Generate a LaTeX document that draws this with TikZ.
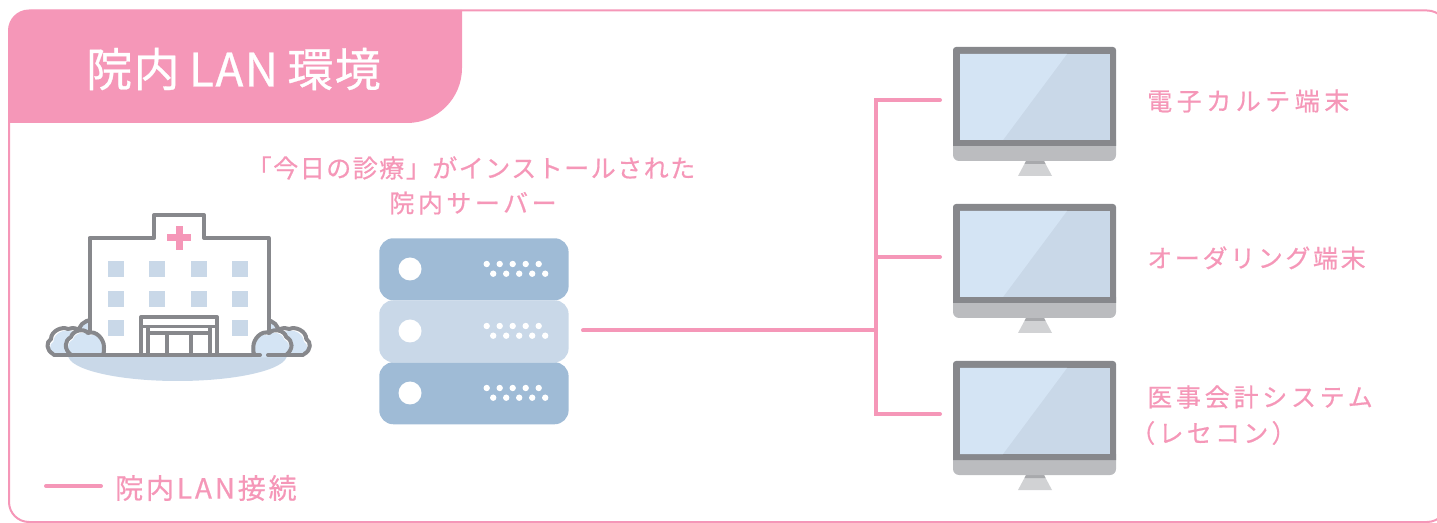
\documentclass[tikz,border=0pt]{standalone}
\usepackage{fontspec}
\setmainfont{Noto Sans CJK JP}
\newfontfamily\jpbase[FakeBold=0.6]{Noto Sans CJK JP}
\definecolor{pinkc}{HTML}{F597B8}
\definecolor{grayc}{HTML}{87888C}
\definecolor{chinc}{HTML}{BBBCBF}
\definecolor{standc}{HTML}{D1D2D4}
\definecolor{lightb}{HTML}{D4E4F4}
\definecolor{paleb}{HTML}{C9D8E8}
\definecolor{midb}{HTML}{9FBBD6}
\newcommand{\lspc}[1]{\addfontfeature{LetterSpace=#1}}
\newcommand{\rearbush}{(53,354) .. controls (46,350) and (46,342) .. (51,339) .. controls (51,331) and (62,326) .. (68,329) .. controls (74,326) and (82,330) .. (86,338)}
\newcommand{\frontbush}{(71,355) .. controls (64,349) and (64,341) .. (71,337) .. controls (73,330) and (84,328) .. (88,333) .. controls (96,330) and (104,339) .. (104,347) .. controls (104,351) and (104,353) .. (103,355)}
\tikzset{
  x=0.75pt,y=-0.75pt,
  wire/.style={draw=pinkc,line width=3pt,line cap=round,line join=miter},
  lbl/.style={text=pinkc,anchor=west,inner sep=0pt,font=\jpbase\fontsize{18.75pt}{22pt}\selectfont},
  srv/.style={text=pinkc,anchor=center,inner sep=0pt,font=\jpbase\fontsize{18.75pt}{22pt}\selectfont},
  bld/.style={draw=grayc,line width=3pt,line join=round,line cap=round},
  bush/.style={draw=grayc,line width=3pt,line join=round,line cap=round},
  box/.style={inner sep=0pt,minimum width=142pt,minimum height=46.5pt,rounded corners=10.5pt,anchor=north west},
}
\begin{document}
\begin{tikzpicture}
\useasboundingbox (0,0) rectangle (1437,523);
% frame
\draw[pinkc,line width=1.5pt,rounded corners=15pt] (9,10.5) rectangle (1447,522);
\fill[pinkc] (9,123) -- (9,32) arc[start angle=180,end angle=270,radius=22] -- (462,10) -- (462,68) arc[start angle=0,end angle=90,radius=55] -- cycle;
\node[anchor=west,inner sep=0pt,text=white,font=\jpbase\fontsize{34.5pt}{40pt}\selectfont] (title) at (86,69) {\lspc{3}院内\hspace{7pt}LAN\hspace{7pt}環境};
% server label
\node[srv] (srvA) at (471,168) {\lspc{6}「今日の診療」がインストールされた};
\node[srv] (srvB) at (473,203) {\lspc{14}院内サーバー};
% hospital
\fill[paleb] (68,355) arc[start angle=180,end angle=0,x radius=109.5,y radius=26] -- cycle;
\foreach \sh/\sc in {0/1,357.3/-1}{
\begin{scope}[shift={(\sh,0)},xscale=\sc]
  \draw[bush,fill=lightb] (78,334) .. controls (78,326) and (84,320) .. (92,320) -- (92,340) -- cycle;
  \fill[white] \rearbush -- (86,355) -- cycle;
  \begin{scope}[shift={(2.5,2.5)}]\fill[lightb] \rearbush -- (84,353) -- cycle;\end{scope}
  \draw[bush] \rearbush;
\end{scope}}
\draw[bld,fill=white] (89.5,355) -- (89.5,238) -- (154,238) -- (154,215) -- (204,215) -- (204,238) -- (268.7,238) -- (268.7,355) -- cycle;
\foreach \sh/\sc in {0/1,357.3/-1}{
\begin{scope}[shift={(\sh,0)},xscale=\sc]
  \fill[white] \frontbush -- cycle;
  \begin{scope}[shift={(2,2.5)}]\fill[lightb] \frontbush -- cycle;\end{scope}
  \draw[bush] \frontbush;
\end{scope}}
\fill[pinkc] (167,234) rectangle (191,241.5);
\fill[pinkc] (175.5,226) rectangle (183,250);
\foreach \wx/\wy in {108/261,149/261,191/261,232/261,108/291,149/291,191/291,232/291,108/320,232/320}
  \fill[paleb] (\wx,\wy) rectangle ++(16,16);
\draw[bld] (141,355) -- (141,317) -- (217,317) -- (217,355);
\draw[bld,line width=2.2pt] (141,326.5) -- (217,326.5);
\draw[bld] (148,355) -- (148,328) (210,355) -- (210,328);
\draw[bld,line width=2.6pt] (148,333) -- (210,333);
\draw[bld] (167,355) -- (167,333) (191,355) -- (191,333);
\draw[bld] (54,355) -- (260,355);
\draw[bld] (268,355) -- (303,355);
% server
\foreach \n/\ry/\col in {srvT/238/midb,srvL/362/midb,srvM/300/paleb}{
  \node[box,fill=\col] (\n) at (379,\ry) {};
  \fill[white] (410,\ry+31) circle[radius=11.5];
  \foreach \dx in {0,13,26,39,52}{
    \fill[white] (486.7+\dx,\ry+26) circle[radius=3.2];
    \fill[white] (493.2+\dx,\ry+35.7) circle[radius=3.2];
  }
}
% monitors
\foreach \n/\my in {1/47,2/204,3/361}{
  \begin{scope}[shift={(0,\my-47)}]
    \fill[standc] (1026,161) -- (1044,161) -- (1052,176) -- (1018,176) -- cycle;
    \fill[chinc!90!black] (1026,161) -- (1044,161) -- (1045.5,164) -- (1024.5,164) -- cycle;
    \fill[chinc] (953,140) -- (1116,140) -- (1116,155) arc[start angle=0,end angle=90,radius=6] -- (959,161) arc[start angle=90,end angle=180,radius=6] -- cycle;
    \fill[grayc] (953,146) -- (953,50) arc[start angle=180,end angle=270,radius=3] -- (1113,47) arc[start angle=270,end angle=360,radius=3] -- (1116,146) -- cycle;
    \fill[paleb] (960,54) rectangle (1110,140);
    \fill[lightb] (960,54) -- (1067,54) -- (1003,140) -- (960,140) -- cycle;
  \end{scope}
  \coordinate (mon\n) at (940,\my+53);
}
% connectors
\coordinate (srvport) at (583,330.5);
\coordinate (hub) at (876,330.5);
\draw[wire] (srvport) -- (hub);
\draw[wire] (mon1) -- (mon1 -| hub) -- (mon3 -| hub) -- (mon3);
\draw[wire] (mon2 -| hub) -- (mon2);
% labels
\node[lbl] (l1) at (1147,101) {\lspc{18}電子カルテ端末};
\node[lbl] (l2) at (1147,258) {\lspc{10.5}オーダリング端末};
\node[lbl] (l3) at (1147,397) {\lspc{15}医事会計システム};
\node[lbl] (l4) at (1130,433) {\lspc{13}（レセコン）};
% legend
\coordinate (legA) at (46,486);
\coordinate (legB) at (101,486);
\draw[wire] (legA) -- (legB);
\node[lbl,font=\jpbase\fontsize{21pt}{24pt}\selectfont] (leg) at (115,488) {\lspc{10}院内LAN接続};
\end{tikzpicture}
\end{document}
